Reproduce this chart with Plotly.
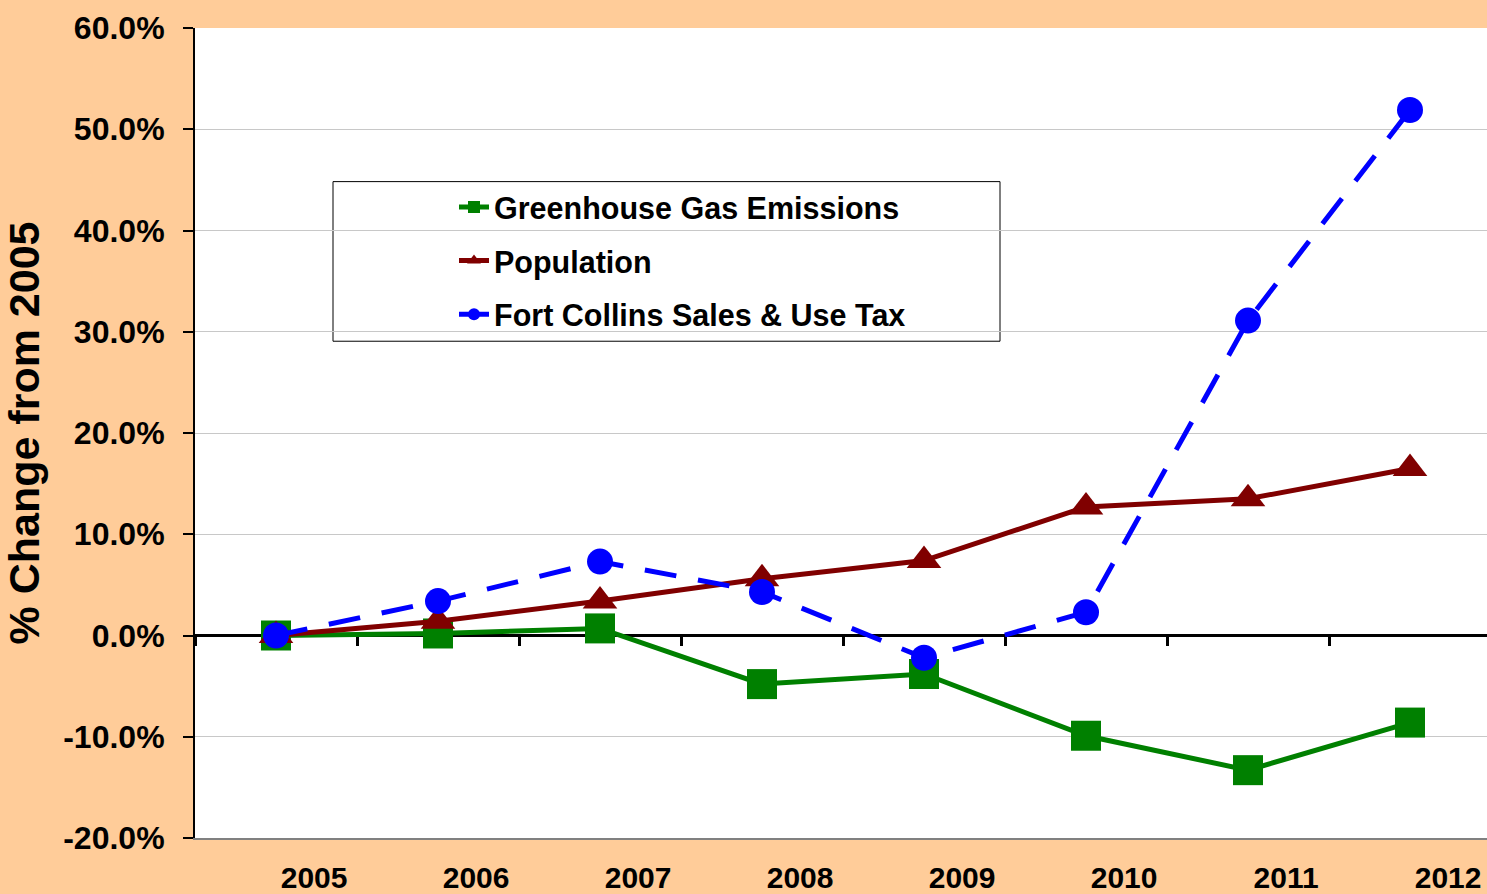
import plotly.graph_objects as go

years = ["2005", "2006", "2007", "2008", "2009", "2010", "2011", "2012"]
ghg = [0.0, 0.2, 0.7, -4.8, -3.8, -9.9, -13.3, -8.6]
population = [0.0, 1.4, 3.4, 5.6, 7.4, 12.7, 13.5, 16.5]
sales_tax = [0.0, 3.4, 7.3, 4.3, -2.2, 2.3, 31.1, 51.9]
yticks = [-20, -10, 0, 10, 20, 30, 40, 50, 60]

FONT = "Arial, 'Liberation Sans', sans-serif"
xi = list(range(len(years)))

fig = go.Figure()
fig.add_trace(go.Scatter(x=xi, y=ghg, name="Greenhouse Gas Emissions", mode="lines+markers",
                         line=dict(color="#008000", width=5),
                         marker=dict(symbol="square", size=30, color="#008000"),
                         legendgroup="a"))
fig.add_trace(go.Scatter(x=xi, y=population, name="Population", mode="lines+markers",
                         line=dict(color="#800000", width=5),
                         marker=dict(symbol="triangle-up", size=30, color="#800000"),
                         legendgroup="b"))
fig.add_trace(go.Scatter(x=xi, y=sales_tax, name="Fort Collins Sales & Use Tax", mode="lines+markers",
                         line=dict(color="#0000FF", width=5, dash="32px,22px"),
                         marker=dict(symbol="circle", size=26, color="#0000FF"),
                         legendgroup="c"))
# dummy trace to carry the boundary tick axis
fig.add_trace(go.Scatter(x=[xi[0]], y=[0], xaxis="x2", mode="markers",
                         marker=dict(size=1, opacity=0), showlegend=False, hoverinfo="skip"))

L, T, B = 195, 28, 54
W, H = 1487, 894
pw = W - L
ph = H - T - B
cat = 162.0
xmax = -0.5 + pw / cat
xr = [-0.5, xmax]

fig.update_layout(
    width=W, height=H,
    paper_bgcolor="#FFCC99", plot_bgcolor="#FFFFFF",
    margin=dict(l=L, r=0, t=T, b=B, pad=0),
    font=dict(family=FONT, color="#000000"),
    showlegend=True,
    legend=dict(x=(454 - L) / pw, y=(H - B - 181) / ph, xanchor="left", yanchor="top",
                bgcolor="rgba(0,0,0,0)", borderwidth=0,
                font=dict(family=FONT, size=30.5, color="#000000", weight="bold"),
                tracegroupgap=11, itemsizing="constant"),
    xaxis=dict(range=xr, tickmode="array", tickvals=[i + 0.235 for i in xi], ticktext=years,
               ticks="", showgrid=False, zeroline=False, showline=True, linecolor="#808080",
               linewidth=2, tickfont=dict(family=FONT, size=30, color="#000000", weight="bold"),
               ticklabelstandoff=12),
    xaxis2=dict(range=xr, overlaying="x", anchor="free", position=0.25, side="bottom",
                tickmode="array", tickvals=[i - 0.5 for i in range(len(years) + 1)],
                ticks="outside", ticklen=9, tickwidth=3, tickcolor="#000000",
                showticklabels=False, showgrid=False, zeroline=False, showline=False),
    yaxis=dict(range=[-20, 60], tickmode="array", tickvals=yticks,
               ticktext=[f"{v:.1f}%" for v in yticks],
               ticks="outside", ticklen=10, tickwidth=2, tickcolor="#000000",
               ticklabelstandoff=12,
               showline=True, linecolor="#000000", linewidth=2,
               showgrid=True, gridcolor="#C8C8C8", gridwidth=1,
               zeroline=True, zerolinecolor="#000000", zerolinewidth=3,
               tickfont=dict(family=FONT, size=32, color="#000000", weight="bold"),
               title=dict(text="% Change from 2005", standoff=22,
                          font=dict(family=FONT, size=43, color="#000000", weight="bold"))),
    shapes=[dict(type="rect", xref="paper", yref="paper",
                 x0=(333 - L) / pw, x1=(1000 - L) / pw,
                 y0=(H - B - 342) / ph, y1=(H - B - 182) / ph,
                 line=dict(color="#000000", width=1), fillcolor="#FFFFFF", layer="below")],
)

fig.write_html("out.html", config={"displayModeBar": False},
               post_script="document.body.style.margin='0';document.body.style.padding='0';")
